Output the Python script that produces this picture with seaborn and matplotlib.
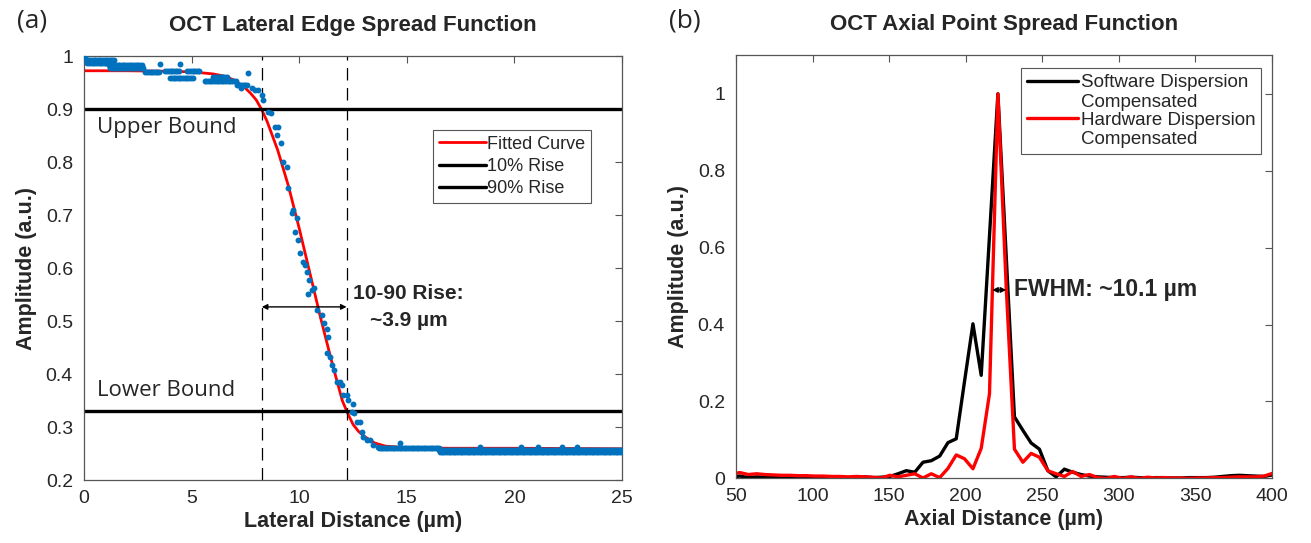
import numpy as np
import matplotlib
matplotlib.use("Agg")
import matplotlib.pyplot as plt
from matplotlib.lines import Line2D
from matplotlib.legend_handler import HandlerLine2D
import seaborn as sns

# ---------------- (a) lateral edge spread function ----------------
# flat stretches of the measured ESF (start um, end um, amplitude), dots ~0.08 um apart
run_start = [0.12, 0.16, 1.16, 1.20, 2.85, 3.78, 4.00, 4.80, 5.60, 6.00, 7.10, 13.70, 16.50, 16.54]
run_end = [1.44, 1.44, 2.76, 2.76, 3.55, 4.48, 5.10, 5.40, 7.10, 6.70, 7.60, 16.50, 25.00, 25.00]
run_level = [0.993, 0.987, 0.984, 0.978, 0.970, 0.973, 0.959, 0.972, 0.954, 0.962, 0.946, 0.261, 0.257, 0.253]

# single dots (rise region and outliers)
esf_x = [0.05, 3.55, 4.48, 7.64, 7.30, 7.79, 7.95, 8.10, 8.26, 8.33, 8.56, 8.67, 8.88, 9.03, 8.95, 9.14,
         9.26, 9.42, 9.49, 9.65, 9.73, 9.88, 9.80, 9.96, 10.04, 10.16, 10.27, 10.35, 10.47, 10.42,
         10.58, 10.69, 10.84, 11.05, 11.17, 11.28, 11.35, 11.31, 11.43, 11.51, 11.62, 11.74, 11.90,
         11.97, 12.05, 12.21, 12.28, 12.44, 12.51, 12.55, 12.67, 12.83, 12.90, 12.98, 13.14, 13.29,
         13.44, 13.68, 14.68, 18.40, 20.30, 21.10, 22.20, 22.90]
esf_y = [1.000, 0.985, 0.986, 0.968, 0.940, 0.940, 0.937, 0.937, 0.927, 0.918, 0.896, 0.893, 0.867,
         0.867, 0.852, 0.836, 0.801, 0.792, 0.751, 0.704, 0.710, 0.694, 0.669, 0.653, 0.628, 0.612,
         0.606, 0.593, 0.578, 0.552, 0.559, 0.562, 0.521, 0.511, 0.496, 0.486, 0.470, 0.439, 0.433,
         0.417, 0.407, 0.385, 0.385, 0.379, 0.360, 0.360, 0.351, 0.329, 0.344, 0.326, 0.310, 0.310,
         0.291, 0.281, 0.275, 0.276, 0.266, 0.262, 0.269, 0.263, 0.263, 0.263, 0.263, 0.263]

# fitted curve
fit_x = [0, 2, 4, 5, 6, 6.5, 7, 7.5, 7.75, 8, 8.25, 8.5, 9, 9.5, 10, 10.5, 11, 11.5, 12, 12.25,
         12.5, 12.75, 13, 13.5, 14, 15, 17, 20, 25]
fit_y = [0.973, 0.973, 0.972, 0.971, 0.967, 0.963, 0.955, 0.940, 0.930, 0.918, 0.900, 0.878, 0.823,
         0.755, 0.675, 0.590, 0.505, 0.425, 0.350, 0.326, 0.305, 0.292, 0.283, 0.270, 0.264, 0.261,
         0.260, 0.260, 0.259]

upper_bound = 0.90
lower_bound = 0.33
rise_x = [8.26, 12.20]

# ---------------- (b) axial point spread function ----------------
axial_x = [47.2, 52.6, 58.1, 63.5, 68.9, 74.4, 79.8, 85.2, 90.6, 96.1, 101.5, 106.9, 112.4, 117.8,
           123.2, 128.6, 134.1, 139.5, 144.9, 150.4, 155.8, 161.2, 166.7, 172.1, 177.5, 183.0,
           188.4, 193.8, 199.2, 204.7, 210.1, 215.5, 221.0, 226.4, 231.8, 237.3, 242.7, 248.1,
           253.6, 259.0, 264.4, 269.8, 275.3, 280.7, 286.1, 291.6, 297.0, 302.4, 307.9, 313.3,
           318.7, 324.2, 329.6, 335.0, 340.5, 345.9, 351.3, 356.7, 362.2, 367.6, 373.0, 378.5,
           383.9, 389.3, 394.8, 400.2]
software = [0.004, 0.006, 0.002, 0.004, 0.003, 0.002, 0.003, 0.002, 0.002, 0.001, 0.002, 0.002,
            0.001, 0.002, 0.001, 0.002, 0.004, 0.002, 0.003, 0.005, 0.012, 0.020, 0.016, 0.042,
            0.046, 0.058, 0.093, 0.103, 0.252, 0.402, 0.268, 0.630, 1.000, 0.580, 0.160, 0.125,
            0.092, 0.076, 0.020, 0.004, 0.024, 0.016, 0.010, 0.006, 0.004, 0.003, 0.002, 0.002,
            0.003, 0.002, 0.001, 0.002, 0.002, 0.001, 0.001, 0.002, 0.002, 0.002, 0.003, 0.005,
            0.007, 0.008, 0.007, 0.006, 0.005, 0.009]
hardware = [0.012, 0.015, 0.010, 0.012, 0.010, 0.009, 0.008, 0.008, 0.007, 0.007, 0.006, 0.006,
            0.005, 0.005, 0.004, 0.005, 0.004, 0.003, 0.001, 0.008, 0.004, 0.008, 0.012, 0.001,
            0.012, 0.002, 0.026, 0.061, 0.051, 0.025, 0.078, 0.220, 1.000, 0.500, 0.076, 0.042,
            0.065, 0.055, 0.020, 0.012, 0.005, 0.018, 0.005, 0.010, 0.002, 0.000, 0.005, 0.000,
            0.004, 0.000, 0.003, 0.001, 0.002, 0.001, 0.001, 0.000, 0.001, 0.001, 0.002, 0.002,
            0.003, 0.004, 0.004, 0.004, 0.006, 0.013]
fwhm_x = [217.3, 226.4]
fwhm_y = 0.49


class FirstLineHandler(HandlerLine2D):
    # put the legend line next to the first line of a two-line label (MATLAB style)
    def create_artists(self, legend, orig_handle, xdescent, ydescent, width, height, fontsize, trans):
        arts = super().create_artists(legend, orig_handle, xdescent, ydescent, width, height, fontsize, trans)
        for a in arts:
            a.set_ydata(np.asarray(a.get_ydata()) + 0.62 * fontsize)
        return arts


sns.set_style("white")
plt.rcParams['font.family'] = ['Liberation Sans', 'DejaVu Sans']
ink = '#262626'
edge = '#555555'

fig = plt.figure(figsize=(13.11, 5.43), dpi=100)
ax1 = fig.add_axes([0.0641, 0.116, 0.4104, 0.780])
ax2 = fig.add_axes([0.5614, 0.119, 0.4089, 0.779])

# expand the flat runs into dots
dots_x = list(esf_x)
dots_y = list(esf_y)
for s, e, lv in zip(run_start, run_end, run_level):
    xs = np.arange(s, e, 0.08)
    dots_x += list(xs)
    dots_y += [lv] * len(xs)

sns.scatterplot(x=dots_x, y=dots_y, color='#0072BD', s=18, linewidth=0, ax=ax1, zorder=3)
sns.lineplot(x=fit_x, y=fit_y, color='red', lw=2.0, ax=ax1, label='Fitted Curve', zorder=2)
ax1.axhline(upper_bound, color='k', lw=2.4, label='10% Rise')
ax1.axhline(lower_bound, color='k', lw=2.4, label='90% Rise')
for xv in rise_x:
    ax1.axvline(xv, color='k', lw=0.9, ls=(0, (10, 6)))
ax1.annotate('', xy=(rise_x[0], 0.527), xytext=(rise_x[1], 0.527),
             arrowprops=dict(arrowstyle='<|-|>', color='k', lw=1.0, mutation_scale=8, shrinkA=0, shrinkB=0))
ax1.text(12.5, 0.527, '10-90 Rise:\n~3.9 µm', fontsize=15, fontweight='bold', color=ink,
         ha='left', va='center', multialignment='center', linespacing=1.55)
ax1.text(0.6, 0.866, 'Upper Bound', fontsize=16, color=ink, va='center', family=['Open Sans', 'DejaVu Sans'])
ax1.text(0.6, 0.369, 'Lower Bound', fontsize=16, color=ink, va='center', family=['Open Sans', 'DejaVu Sans'])

ax1.set_xlim(0, 25)
ax1.set_ylim(0.2, 1.0)
ax1.set_xticks([0, 5, 10, 15, 20, 25])
ax1.set_yticks([0.2, 0.3, 0.4, 0.5, 0.6, 0.7, 0.8, 0.9, 1.0])
ax1.set_yticklabels(['0.2', '0.3', '0.4', '0.5', '0.6', '0.7', '0.8', '0.9', '1'])
ax1.set_xlabel('Lateral Distance (µm)', fontsize=15.5, fontweight='bold', color=ink, labelpad=3)
ax1.set_ylabel('Amplitude (a.u.)', fontsize=15.5, fontweight='bold', color=ink, labelpad=6)
ax1.set_title('OCT Lateral Edge Spread Function', fontsize=16, fontweight='bold', color=ink, pad=18)
leg1 = ax1.legend(loc='upper right', bbox_to_anchor=(0.942, 0.826), fontsize=13, frameon=True,
                  fancybox=False, edgecolor=edge, framealpha=1, handlelength=2.6,
                  handletextpad=0.1, borderpad=0.3, labelspacing=0.3, borderaxespad=0)
leg1.get_frame().set_linewidth(0.8)

sns.lineplot(x=axial_x, y=software, color='k', lw=2.4, ax=ax2, label='Software Dispersion\nCompensated')
sns.lineplot(x=axial_x, y=hardware, color='red', lw=2.4, ax=ax2, label='Hardware Dispersion\nCompensated')
ax2.annotate('', xy=(fwhm_x[0], fwhm_y), xytext=(fwhm_x[1], fwhm_y),
             arrowprops=dict(arrowstyle='<|-|>', color='k', lw=1.0, mutation_scale=8, shrinkA=0, shrinkB=0))
ax2.text(231.5, fwhm_y, 'FWHM: ~10.1 µm', fontsize=16.5, fontweight='bold', color=ink,
         ha='left', va='center')
ax2.set_xlim(50, 400)
ax2.set_ylim(0, 1.1)
ax2.set_xticks([50, 100, 150, 200, 250, 300, 350, 400])
ax2.set_yticks([0, 0.2, 0.4, 0.6, 0.8, 1.0])
ax2.set_yticklabels(['0', '0.2', '0.4', '0.6', '0.8', '1'])
ax2.set_xlabel('Axial Distance (µm)', fontsize=15.5, fontweight='bold', color=ink, labelpad=3)
ax2.set_ylabel('Amplitude (a.u.)', fontsize=15.5, fontweight='bold', color=ink, labelpad=6)
ax2.set_title('OCT Axial Point Spread Function', fontsize=16, fontweight='bold', color=ink, pad=18)
leg2 = ax2.legend(loc='upper right', bbox_to_anchor=(0.979, 0.969), fontsize=13.5, frameon=True,
                  fancybox=False, edgecolor=edge, framealpha=1, handlelength=2.7,
                  handletextpad=0.15, borderpad=0.3, labelspacing=0.05, borderaxespad=0,
                  handler_map={Line2D: FirstLineHandler()})
leg2.get_frame().set_linewidth(0.8)

for ax in (ax1, ax2):
    for sp in ax.spines.values():
        sp.set_visible(True)
        sp.set_color(edge)
        sp.set_linewidth(0.9)
    ax.tick_params(direction='in', top=True, right=True, length=5, width=0.8,
                   color=edge, labelcolor=ink, labelsize=14)
    ax.tick_params(axis='x', pad=7)
    ax.tick_params(axis='y', pad=8)

fig.text(0.013, 0.985, '(a)', fontsize=19, color=ink, va='top', family=['Open Sans', 'DejaVu Sans'])
fig.text(0.510, 0.985, '(b)', fontsize=19, color=ink, va='top', family=['Open Sans', 'DejaVu Sans'])

plt.savefig('out.png', dpi=100)
